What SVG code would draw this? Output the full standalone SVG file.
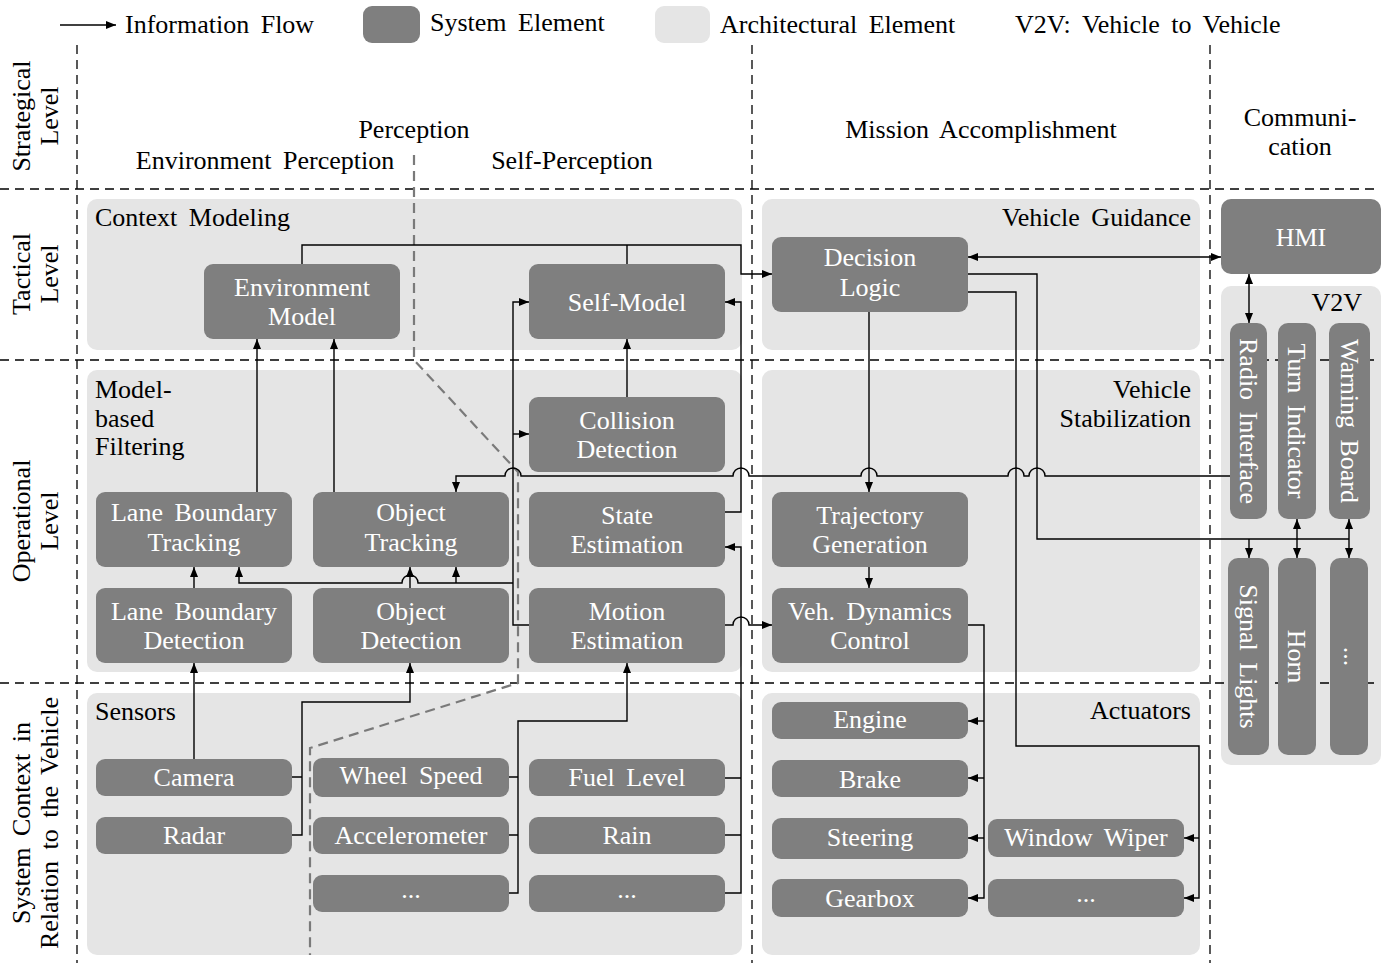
<svg xmlns="http://www.w3.org/2000/svg" width="1390" height="963" viewBox="0 0 1390 963">
<style>
text{font-family:"Liberation Serif","Times New Roman",serif;font-size:26px;word-spacing:5px}
.k{fill:#000}
.w{fill:#fff;text-anchor:middle}
.m{text-anchor:middle}
.e{text-anchor:end}
.arch{fill:#e5e5e5}
.sys{fill:#7f7f7f}
.dash{stroke:#000;stroke-width:1.3;stroke-dasharray:9 6;fill:none}
.gdash{stroke:#7a7a7a;stroke-width:2.2;stroke-dasharray:10 6;fill:none}
.c{stroke:#000;stroke-width:1.4;fill:none}
.a{marker-end:url(#ah)}
.d{marker-end:url(#ah);marker-start:url(#ah)}
</style>
<defs>
<marker id="ah" viewBox="0 0 10 8" refX="10" refY="4" markerWidth="10" markerHeight="8" markerUnits="userSpaceOnUse" orient="auto-start-reverse">
<path d="M0,0 L10,4 L0,8 z" fill="#000"/>
</marker>
</defs>
<rect width="1390" height="963" fill="#fff"/>

<g id="legend">
<path class="c a" d="M60,25 H116"/>
<text x="125" y="33" class="k">Information Flow</text>
<rect x="363" y="6" width="57" height="37" rx="9" class="sys"/>
<text x="430" y="31" class="k">System Element</text>
<rect x="655" y="6" width="55" height="37" rx="9" class="arch"/>
<text x="720" y="33" class="k">Architectural Element</text>
<text x="1015" y="33" class="k">V2V: Vehicle to Vehicle</text>
</g>

<g id="containers">
<g id="context-modeling"><rect x="87" y="199" width="655" height="151" rx="10" class="arch"/><text x="95" y="226" class="k">Context Modeling</text></g>
<g id="model-based-filtering"><rect x="87" y="370" width="655" height="302" rx="10" class="arch"/><text x="95" y="398" class="k">Model-</text><text x="95" y="427" class="k">based</text><text x="95" y="455" class="k">Filtering</text></g>
<g id="sensors"><rect x="87" y="693" width="655" height="262" rx="10" class="arch"/><text x="95" y="720" class="k">Sensors</text></g>
<g id="vehicle-guidance"><rect x="762" y="199" width="438" height="151" rx="10" class="arch"/><text x="1191" y="226" class="k e">Vehicle Guidance</text></g>
<g id="vehicle-stabilization"><rect x="762" y="370" width="438" height="302" rx="10" class="arch"/><text x="1191" y="398" class="k e">Vehicle</text><text x="1191" y="427" class="k e">Stabilization</text></g>
<g id="actuators"><rect x="762" y="693" width="438" height="262" rx="10" class="arch"/><text x="1191" y="719" class="k e">Actuators</text></g>
<g id="v2v"><rect x="1221" y="286" width="160" height="479" rx="10" class="arch"/><text x="1362" y="311" class="k e">V2V</text></g>
</g>

<g id="grid">
<path class="dash" d="M0,189 H1380 M0,360 H1380 M0,683 H1380"/>
<path class="dash" d="M77,45 V963 M752,45 V963 M1210,45 V963"/>
<path class="gdash" d="M414,155 V360 L518,472 V683 L310,748 V955"/>
</g>

<g id="headers">
<g transform="translate(0,116) rotate(-90)"><text x="0" y="30" class="k m">Strategical</text><text x="0" y="58" class="k m">Level</text></g>
<g transform="translate(0,274) rotate(-90)"><text x="0" y="30" class="k m">Tactical</text><text x="0" y="58" class="k m">Level</text></g>
<g transform="translate(0,521) rotate(-90)"><text x="0" y="30" class="k m">Operational</text><text x="0" y="58" class="k m">Level</text></g>
<g transform="translate(0,823) rotate(-90)"><text x="0" y="30" class="k m">System Context in</text><text x="0" y="58" class="k m">Relation to the Vehicle</text></g>
<text x="414" y="138" class="k m">Perception</text>
<text x="265" y="169" class="k m">Environment Perception</text>
<text x="572" y="169" class="k m">Self-Perception</text>
<text x="981" y="138" class="k m">Mission Accomplishment</text>
<text x="1300" y="126" class="k m">Communi-</text>
<text x="1300" y="155" class="k m">cation</text>
</g>

<g id="connectors">
<path class="c a" d="M302,264 V245 H741 V274 H772"/>
<path class="c" d="M627,264 V245"/>
<path class="c d" d="M968,257 H1221"/>
<path class="c" d="M968,274 H1037 V539 H1349"/>
<path class="c a" d="M1249,539 V558"/>
<path class="c d" d="M1297,519 V558"/>
<path class="c d" d="M1349,519 V558"/>
<path class="c d" d="M1249,274 V323"/>
<path class="c a" d="M968,292 H1016 V746 H1199 V898 H1184"/>
<path class="c a" d="M1199,838 H1184"/>
<path class="c a" d="M869,312 V492"/>
<path class="c a" d="M869,567 V588"/>
<path class="c a" d="M968,625 H984 V898 H968"/>
<path class="c a" d="M984,721 H968"/>
<path class="c a" d="M984,778 H968"/>
<path class="c a" d="M984,838 H968"/>
<path class="c a" d="M725,625 H733 A8,8 0 0 1 749,625 H772"/>
<path class="c a" d="M725,512 H741 V302 H725"/>
<path class="c a" d="M725,778 H741 M725,835 H741 M725,893 H741 V547 H725"/>
<path class="c a" d="M529,625 H513 V302 H529"/>
<path class="c a" d="M513,434 H529"/>
<path class="c a" d="M513,583 H418 A8,8 0 0 0 402,583 H239 V567"/>
<path class="c a" d="M456,583 V567"/>
<path class="c a" d="M1230,476 H1045 A8,8 0 0 0 1029,476 H1024 A8,8 0 0 0 1008,476 H877 A8,8 0 0 0 861,476 H749 A8,8 0 0 0 733,476 H521 A8,8 0 0 0 505,476 H456 V492"/>
<path class="c a" d="M194,588 V567"/>
<path class="c a" d="M410,588 V567"/>
<path class="c a" d="M257,492 V339"/>
<path class="c a" d="M334,492 V339"/>
<path class="c a" d="M627,397 V339"/>
<path class="c a" d="M194,759 V663"/>
<path class="c a" d="M292,777 H302 M292,835 H302 V702 H410 V663"/>
<path class="c a" d="M509,777 H518 M509,835 H518 M509,893 H518 V721 H627 V663"/>
</g>

<g id="n-environment-model"><rect x="204" y="264" width="196" height="75" rx="9" class="sys"/><text x="302" y="296" class="w">Environment</text><text x="302" y="325" class="w">Model</text></g>
<g id="n-self-model"><rect x="529" y="264" width="196" height="75" rx="9" class="sys"/><text x="627" y="311" class="w">Self-Model</text></g>
<g id="n-decision-logic"><rect x="772" y="237" width="196" height="75" rx="9" class="sys"/><text x="870" y="266" class="w">Decision</text><text x="870" y="296" class="w">Logic</text></g>
<g id="n-hmi"><rect x="1221" y="199" width="160" height="75" rx="10" class="sys"/><text x="1301" y="246" class="w">HMI</text></g>
<g id="n-collision-detection"><rect x="529" y="397" width="196" height="75" rx="9" class="sys"/><text x="627" y="429" class="w">Collision</text><text x="627" y="458" class="w">Detection</text></g>
<g id="n-lane-boundary-tracking"><rect x="96" y="492" width="196" height="75" rx="9" class="sys"/><text x="194" y="521" class="w">Lane Boundary</text><text x="194" y="551" class="w">Tracking</text></g>
<g id="n-object-tracking"><rect x="313" y="492" width="196" height="75" rx="9" class="sys"/><text x="411" y="521" class="w">Object</text><text x="411" y="551" class="w">Tracking</text></g>
<g id="n-state-estimation"><rect x="529" y="492" width="196" height="75" rx="9" class="sys"/><text x="627" y="524" class="w">State</text><text x="627" y="553" class="w">Estimation</text></g>
<g id="n-trajectory-generation"><rect x="772" y="492" width="196" height="75" rx="9" class="sys"/><text x="870" y="524" class="w">Trajectory</text><text x="870" y="553" class="w">Generation</text></g>
<g id="n-lane-boundary-detection"><rect x="96" y="588" width="196" height="75" rx="9" class="sys"/><text x="194" y="620" class="w">Lane Boundary</text><text x="194" y="649" class="w">Detection</text></g>
<g id="n-object-detection"><rect x="313" y="588" width="196" height="75" rx="9" class="sys"/><text x="411" y="620" class="w">Object</text><text x="411" y="649" class="w">Detection</text></g>
<g id="n-motion-estimation"><rect x="529" y="588" width="196" height="75" rx="9" class="sys"/><text x="627" y="620" class="w">Motion</text><text x="627" y="649" class="w">Estimation</text></g>
<g id="n-veh-dynamics-control"><rect x="772" y="588" width="196" height="75" rx="9" class="sys"/><text x="870" y="620" class="w">Veh. Dynamics</text><text x="870" y="649" class="w">Control</text></g>

<g id="n-camera"><rect x="96" y="759" width="196" height="37" rx="9" class="sys"/><text x="194" y="786" class="w">Camera</text></g>
<g id="n-radar"><rect x="96" y="817" width="196" height="37" rx="9" class="sys"/><text x="194" y="844" class="w">Radar</text></g>
<g id="n-wheel-speed"><rect x="313" y="758" width="196" height="39" rx="9" class="sys"/><text x="411" y="784" class="w">Wheel Speed</text></g>
<g id="n-accelerometer"><rect x="313" y="817" width="196" height="37" rx="9" class="sys"/><text x="411" y="844" class="w">Accelerometer</text></g>
<g id="n-sensor-more-1"><rect x="313" y="875" width="196" height="37" rx="9" class="sys"/><text x="411" y="898" class="w">...</text></g>
<g id="n-fuel-level"><rect x="529" y="759" width="196" height="37" rx="9" class="sys"/><text x="627" y="786" class="w">Fuel Level</text></g>
<g id="n-rain"><rect x="529" y="817" width="196" height="37" rx="9" class="sys"/><text x="627" y="844" class="w">Rain</text></g>
<g id="n-sensor-more-2"><rect x="529" y="875" width="196" height="37" rx="9" class="sys"/><text x="627" y="898" class="w">...</text></g>

<g id="n-engine"><rect x="772" y="702" width="196" height="37" rx="9" class="sys"/><text x="870" y="728" class="w">Engine</text></g>
<g id="n-brake"><rect x="772" y="760" width="196" height="37" rx="9" class="sys"/><text x="870" y="788" class="w">Brake</text></g>
<g id="n-steering"><rect x="772" y="818" width="196" height="41" rx="9" class="sys"/><text x="870" y="846" class="w">Steering</text></g>
<g id="n-gearbox"><rect x="772" y="879" width="196" height="38" rx="9" class="sys"/><text x="870" y="907" class="w">Gearbox</text></g>
<g id="n-window-wiper"><rect x="988" y="819" width="196" height="38" rx="9" class="sys"/><text x="1086" y="846" class="w">Window Wiper</text></g>
<g id="n-actuator-more"><rect x="988" y="879" width="196" height="38" rx="9" class="sys"/><text x="1086" y="902" class="w">...</text></g>

<g id="n-radio-interface"><rect x="1230" y="323" width="37" height="196" rx="10" class="sys"/><text transform="translate(1248.5,421) rotate(90)" x="0" y="9" class="w">Radio Interface</text></g>
<g id="n-turn-indicator"><rect x="1278" y="323" width="38" height="196" rx="10" class="sys"/><text transform="translate(1297,421) rotate(90)" x="0" y="9" class="w">Turn Indicator</text></g>
<g id="n-warning-board"><rect x="1329" y="323" width="41" height="196" rx="10" class="sys"/><text transform="translate(1349.5,421) rotate(90)" x="0" y="9" class="w">Warning Board</text></g>
<g id="n-signal-lights"><rect x="1228" y="558" width="41" height="197" rx="10" class="sys"/><text transform="translate(1248.5,656.5) rotate(90)" x="0" y="9" class="w">Signal Lights</text></g>
<g id="n-horn"><rect x="1278" y="558" width="38" height="197" rx="10" class="sys"/><text transform="translate(1297,656.5) rotate(90)" x="0" y="9" class="w">Horn</text></g>
<g id="n-v2v-more"><rect x="1330" y="558" width="38" height="197" rx="10" class="sys"/><text transform="translate(1349,656.5) rotate(90)" x="0" y="5" class="w">...</text></g>
</svg>
